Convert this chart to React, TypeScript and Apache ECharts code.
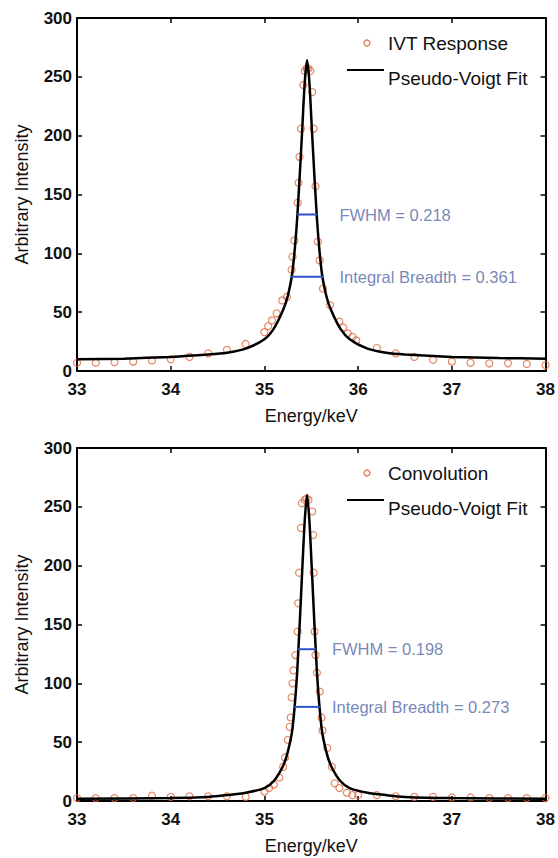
import React, { useEffect, useRef } from 'react';
import * as echarts from 'echarts';

// ---------- Data ----------
const xMin = 33;
const xMax = 38;
const yMin = 0;
const yMax = 300;

// Top panel: IVT Response (scatter)
const topDataE = [33.0, 33.2, 33.4, 33.6, 33.8, 34.0, 34.2, 34.4, 34.6, 34.8, 35.0, 35.04, 35.08, 35.13, 35.19, 35.24, 35.29, 35.3, 35.32, 35.355, 35.365, 35.375, 35.39, 35.415, 35.43, 35.45, 35.47, 35.49, 35.51, 35.525, 35.545, 35.57, 35.59, 35.625, 35.7, 35.8, 35.84, 35.89, 35.94, 35.98, 36.2, 36.4, 36.6, 36.8, 37.0, 37.2, 37.4, 37.6, 37.8, 38.0];
const topDataV = [7, 7, 7.5, 8, 9, 10, 12, 15, 18, 23, 33, 38, 43, 49, 60, 63, 86, 97, 111, 143, 160, 182, 206, 243, 255, 257, 257, 255, 237, 206, 157, 110, 94, 70, 56, 42, 37, 32, 29, 26, 19.5, 15, 12, 9.5, 8, 7, 6.5, 6.5, 6, 5];

// Top panel: Pseudo-Voigt fit (line)
const topFitE = [33.0, 33.5, 34.0, 34.4, 34.6, 34.8, 35.0, 35.1, 35.2, 35.25, 35.3, 35.35, 35.4, 35.43, 35.455, 35.48, 35.51, 35.56, 35.61, 35.66, 35.71, 35.81, 35.91, 36.1, 36.3, 36.5, 37.0, 37.5, 38.0];
const topFitV = [10, 10.5, 12, 14, 15.5, 19, 27, 36, 52, 64, 85, 130, 200, 245, 264, 245, 200, 130, 85, 64, 52, 36, 27, 19, 15.5, 14, 12, 11, 10.5];

// Bottom panel: Convolution (scatter)
const botDataE = [33.0, 33.2, 33.4, 33.6, 33.8, 34.0, 34.2, 34.4, 34.6, 34.8, 35.0, 35.05, 35.1, 35.16, 35.2, 35.22, 35.25, 35.27, 35.28, 35.29, 35.3, 35.31, 35.33, 35.355, 35.36, 35.37, 35.39, 35.4, 35.43, 35.45, 35.47, 35.51, 35.52, 35.525, 35.535, 35.545, 35.56, 35.59, 35.61, 35.62, 35.67, 35.72, 35.75, 35.8, 35.88, 35.94, 36.0, 36.2, 36.4, 36.6, 36.8, 37.0, 37.2, 37.4, 37.6, 37.8, 38.0];
const botDataV = [2.5, 2.5, 2.5, 2.5, 4.5, 3.5, 4, 4, 4, 3.5, 8, 11, 14, 20, 29, 37, 52, 63, 71, 88, 100, 111, 124, 144, 168, 194, 232, 253, 256, 257, 256, 246, 226, 194, 144, 124, 109, 93, 71, 60, 45, 29, 15, 11, 7, 5, 5, 5, 4, 3.5, 3.5, 3, 3, 2.5, 2.5, 2.5, 2.5];

// Bottom panel: Pseudo-Voigt fit (line)
const botFitE = [33.0, 34.0, 34.4, 34.6, 34.8, 35.0, 35.1, 35.2, 35.25, 35.3, 35.35, 35.4, 35.43, 35.455, 35.48, 35.51, 35.56, 35.61, 35.66, 35.71, 35.81, 35.91, 36.1, 36.3, 36.5, 37.0, 38.0];
const botFitV = [2, 2.5, 3.5, 5, 7, 11, 17, 30, 42, 62, 110, 190, 238, 260, 238, 190, 110, 62, 42, 30, 17, 11, 7, 5, 3.5, 2.5, 2];

// Annotations: [xStart, xEnd, y]
const topFWHM = [35.346, 35.564, 133];
const topIB = [35.275, 35.636, 80];
const botFWHM = [35.356, 35.554, 129];
const botIB = [35.318, 35.591, 80];
const topLabels = ['FWHM = 0.218', 'Integral Breadth = 0.361'];
const botLabels = ['FWHM = 0.198', 'Integral Breadth = 0.273'];
const topLabelX = 35.8;
const botLabelX = 35.72;

const topLegend = ['IVT Response', 'Pseudo-Voigt Fit'];
const botLegend = ['Convolution', 'Pseudo-Voigt Fit'];

const xAxisName = 'Energy/keV';
const yAxisName = 'Arbitrary Intensity';

// ---------- Styling ----------
const FONT = '"Liberation Sans", Arial, Helvetica, sans-serif';
const AXIS_COLOR = '#000';
const SCATTER_COLOR = '#e0693e';
const FIT_COLOR = '#000';
const ANNO_LINE = '#2f52c8';
const ANNO_TEXT = '#5167a6';

const zip = (a: number[], b: number[]) => a.map((v, i) => [v, b[i]]);

function App() {
  const ref = useRef<HTMLDivElement>(null);

  useEffect(() => {
    if (!ref.current) return;
    const chart = echarts.init(ref.current, null, { renderer: 'svg' });

    const grids = [
      { left: 77, top: 18, width: 469, height: 353 },
      { left: 77, top: 448, width: 469, height: 353 },
    ];

    const mainX = (gi: number) => ({
      type: 'value',
      gridIndex: gi,
      min: xMin,
      max: xMax,
      interval: 1,
      position: 'bottom',
      name: xAxisName,
      nameLocation: 'middle',
      nameGap: 36,
      nameTextStyle: { fontFamily: FONT, fontSize: 18, color: '#111' },
      axisLine: { show: true, onZero: false, lineStyle: { color: AXIS_COLOR, width: 2 } },
      axisTick: { show: true, inside: true, length: 5, lineStyle: { color: AXIS_COLOR, width: 1.5 } },
      axisLabel: { fontFamily: FONT, fontSize: 17, fontWeight: 'bold', color: '#111', margin: 10 },
      splitLine: { show: false },
    });
    const topX = (gi: number) => ({
      type: 'value',
      gridIndex: gi,
      min: xMin,
      max: xMax,
      interval: 1,
      position: 'top',
      axisLine: { show: true, onZero: false, lineStyle: { color: AXIS_COLOR, width: 2 } },
      axisTick: { show: true, inside: true, length: 5, lineStyle: { color: AXIS_COLOR, width: 1.5 } },
      axisLabel: { show: false },
      splitLine: { show: false },
    });
    const mainY = (gi: number) => ({
      type: 'value',
      gridIndex: gi,
      min: yMin,
      max: yMax,
      interval: 50,
      position: 'left',
      name: yAxisName,
      nameLocation: 'middle',
      nameGap: 46,
      nameTextStyle: { fontFamily: FONT, fontSize: 18, color: '#111' },
      axisLine: { show: true, onZero: false, lineStyle: { color: AXIS_COLOR, width: 2 } },
      axisTick: { show: true, inside: true, length: 5, lineStyle: { color: AXIS_COLOR, width: 1.5 } },
      axisLabel: { fontFamily: FONT, fontSize: 17, fontWeight: 'bold', color: '#111', margin: 5 },
      splitLine: { show: false },
    });
    const rightY = (gi: number) => ({
      type: 'value',
      gridIndex: gi,
      min: yMin,
      max: yMax,
      interval: 50,
      position: 'right',
      axisLine: { show: true, onZero: false, lineStyle: { color: AXIS_COLOR, width: 2 } },
      axisTick: { show: true, inside: true, length: 5, lineStyle: { color: AXIS_COLOR, width: 1.5 } },
      axisLabel: { show: false },
      splitLine: { show: false },
    });

    const panelSeries = (
      gi: number,
      dataE: number[],
      dataV: number[],
      fitE: number[],
      fitV: number[],
      fwhm: number[],
      ib: number[],
      labels: string[],
      labelX: number
    ) => {
      const xi = gi * 2;
      const yi = gi * 2;
      const annoLine = (seg: number[]) => ({
        type: 'line',
        xAxisIndex: xi,
        yAxisIndex: yi,
        data: [[seg[0], seg[2]], [seg[1], seg[2]]],
        symbol: 'none',
        lineStyle: { color: ANNO_LINE, width: 2 },
        z: 4,
        silent: true,
      });
      return [
        {
          type: 'scatter',
          xAxisIndex: xi,
          yAxisIndex: yi,
          data: zip(dataE, dataV),
          symbol: 'circle',
          symbolSize: 7,
          itemStyle: { color: 'rgba(255,255,255,0)', borderColor: SCATTER_COLOR, borderWidth: 1.2 },
          z: 2,
        },
        {
          type: 'line',
          xAxisIndex: xi,
          yAxisIndex: yi,
          data: zip(fitE, fitV),
          symbol: 'none',
          smooth: 0.25,
          lineStyle: { color: FIT_COLOR, width: 2.5 },
          z: 3,
        },
        annoLine(fwhm),
        annoLine(ib),
        {
          type: 'scatter',
          xAxisIndex: xi,
          yAxisIndex: yi,
          symbolSize: 0,
          data: [
            { value: [labelX, fwhm[2]], name: labels[0] },
            { value: [labelX, ib[2]], name: labels[1] },
          ],
          label: {
            show: true,
            position: 'right',
            distance: 0,
            formatter: (p: any) => p.name,
            fontFamily: FONT,
            fontSize: 16.5,
            color: ANNO_TEXT,
          },
          z: 5,
          silent: true,
        },
      ];
    };

    const legend = (y0: number, names: string[]) => [
      {
        type: 'circle',
        shape: { cx: 367, cy: y0 + 43, r: 3 },
        style: { fill: 'rgba(0,0,0,0)', stroke: SCATTER_COLOR, lineWidth: 1.2 },
      },
      {
        type: 'text',
        x: 388,
        y: y0 + 43,
        style: { text: names[0], font: `19px ${FONT}`, fill: '#111', textVerticalAlign: 'middle', verticalAlign: 'middle' },
      },
      {
        type: 'line',
        shape: { x1: 347, y1: y0 + 70, x2: 384, y2: y0 + 70 },
        style: { stroke: '#000', lineWidth: 2 },
      },
      {
        type: 'text',
        x: 388,
        y: y0 + 78,
        style: { text: names[1], font: `19px ${FONT}`, fill: '#111', textVerticalAlign: 'middle', verticalAlign: 'middle' },
      },
    ];

    chart.setOption({
      animation: false,
      backgroundColor: '#fff',
      grid: grids,
      xAxis: [mainX(0), topX(0), mainX(1), topX(1)],
      yAxis: [mainY(0), rightY(0), mainY(1), rightY(1)],
      series: [
        ...panelSeries(0, topDataE, topDataV, topFitE, topFitV, topFWHM, topIB, topLabels, topLabelX),
        ...panelSeries(1, botDataE, botDataV, botFitE, botFitV, botFWHM, botIB, botLabels, botLabelX),
      ].map((s: any) => {
        // map axis indices: main axes are 0 and 2
        return { ...s, xAxisIndex: s.xAxisIndex, yAxisIndex: s.yAxisIndex };
      }),
      graphic: [...legend(0, topLegend), ...legend(430, botLegend)],
    });

    return () => chart.dispose();
  }, []);

  return (
    <div
      ref={ref}
      style={{ position: 'absolute', left: 0, top: 0, width: 558, height: 858, background: '#fff' }}
    />
  );
}

export default App;
